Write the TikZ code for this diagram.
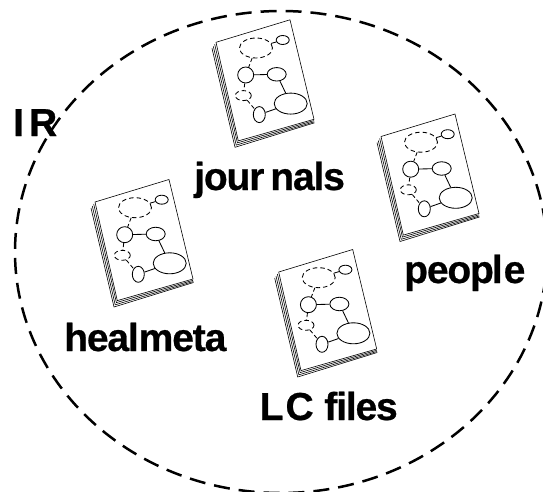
\documentclass[tikz,border=0pt]{standalone}
\usepackage{fontspec}
\setmainfont{Liberation Sans}
\newfontfamily\labfont[LetterSpace=-3,BoldFeatures={FakeBold=0.6}]{Liberation Sans}
\usetikzlibrary{shapes.geometric}
\tikzset{
  x=1pt,y=-1pt,
  docline/.style={line width=0.6pt,line join=round},
  gnode/.style={draw,ellipse,line width=0.85pt,inner sep=0pt,fill=white},
  gdash/.style={gnode,dash pattern=on 4.5pt off 3pt},
  glink/.style={line width=0.85pt},
  glinkd/.style={line width=0.85pt,dash pattern=on 4pt off 2.5pt},
  lab/.style={font=\labfont\bfseries\fontsize{39}{39}\selectfont,inner sep=0pt,anchor=base west},
  boundary/.style={line width=2.5pt,dash pattern=on 16pt off 9pt},
}
\newcommand{\docfig}[3]{%
 \begin{scope}[shift={(#2,#3)}]
  \draw[docline,fill=white] (-4,6) -- (19,105) -- (98.5,80.5);
  \draw[docline,fill=white] (-2.7,4) -- (20.2,102.8) -- (98.3,79.5);
  \draw[docline,fill=white] (-1.3,2) -- (21.4,100.6) -- (98,78.3);
  \draw[docline,fill=white] (0,0) -- (74,-22.5) -- (98,77) -- (22.3,98.6) -- cycle;
  \node[gdash,minimum width=33pt,minimum height=20pt] (#1a) at (40,5.7) {};
  \node[gnode,minimum width=13pt,minimum height=9pt] (#1b) at (66.7,-2.3) {};
  \node[gnode,minimum width=16pt,minimum height=16pt] (#1c) at (29.7,32.7) {};
  \node[gnode,minimum width=19pt,minimum height=13.5pt] (#1d) at (60.7,32) {};
  \node[gdash,minimum width=16pt,minimum height=10pt] (#1e) at (27.3,53.3) {};
  \node[gnode,minimum width=33pt,minimum height=21pt] (#1f) at (74.7,61.3) {};
  \node[gnode,minimum width=12pt,minimum height=16pt] (#1g) at (43.3,72.3) {};
  \draw[glink] (#1a) -- (#1b);
  \draw[glinkd] (#1a) -- (#1c);
  \draw[glink] (#1c) -- (#1d);
  \draw[glink] (#1d) -- (#1f);
  \draw[glinkd] (#1c) -- (#1e);
  \draw[glinkd] (#1e) -- (#1g);
  \draw[glink] (#1g) -- (#1f);
 \end{scope}}
\begin{document}
\begin{tikzpicture}
\useasboundingbox (0,0) rectangle (543,492);
\fill[white] (0,0) rectangle (543,492);
\begin{scope}
\clip (0,0) rectangle (543,492);
\draw[boundary] (281,252) ellipse [x radius=266,y radius=241];
\end{scope}
\docfig{j}{216}{42.3}
\docfig{p}{381}{136.5}
\docfig{h}{95}{202}
\docfig{l}{278.7}{272}
\node[lab] (tj) at (194,190) {jour\kern6pt nals};
\node[lab] (tp) at (404,283) {peop\kern-2pt l\kern1pt e};
\node[lab] (th) at (64,351) {heal\kern0pt met\kern-1pt a};
\node[lab] (tl) at (259.5,420) {L\kern2pt C\kern1pt{} files};
\node[lab] (ti) at (13,136) {I\kern5pt R};
\end{tikzpicture}
\end{document}
